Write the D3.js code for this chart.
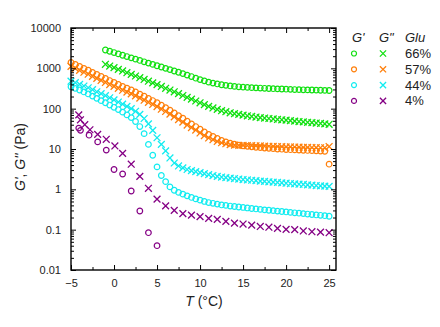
<!DOCTYPE html>
<html>
<head>
<meta charset="utf-8">
<script src="https://cdn.jsdelivr.net/npm/d3@7"></script>
<style>
  body { margin: 0; background: #fff; }
  text { font-family: "Liberation Sans", Arial, sans-serif; }
</style>
</head>
<body>
<div id="chart"></div>
<script>
// temperatures (°C)
const tempGreen = [-1, -0.5, 0, 0.5, 1, 1.5, 2, 2.5, 3, 3.5, 4, 4.5, 5, 5.5, 6, 6.5, 7, 7.5, 8, 8.5, 9, 9.5, 10, 10.5, 11, 11.5, 12, 12.5, 13, 13.5, 14, 14.5, 15, 15.5, 16, 16.5, 17, 17.5, 18, 18.5, 19, 19.5, 20, 20.5, 21, 21.5, 22, 22.5, 23, 23.5, 24, 24.5, 25];
const tempFull = [-5, -4.5, -4, -3.5, -3, -2.5, -2, -1.5, -1, -0.5, 0, 0.5, 1, 1.5, 2, 2.5, 3, 3.5, 4, 4.5, 5, 5.5, 6, 6.5, 7, 7.5, 8, 8.5, 9, 9.5, 10, 10.5, 11, 11.5, 12, 12.5, 13, 13.5, 14, 14.5, 15, 15.5, 16, 16.5, 17, 17.5, 18, 18.5, 19, 19.5, 20, 20.5, 21, 21.5, 22, 22.5, 23, 23.5, 24, 24.5, 25];
const tempPurpleG1 = [-4.1, -3.9, -2.9, -1.9, -0.9, 0, 1, 2, 3, 4, 5];
const tempPurpleG2 = [-4.1, -3.9, -3.4, -2.8, -1.9, -0.9, 0.1, 1, 2, 3, 4, 5, 6, 7, 8, 9, 10, 11, 12, 13, 14, 15, 16, 17, 18, 19, 20, 21, 22, 23, 24, 25];

// G' and G'' (Pa)
const g1_66 = [2850, 2650, 2460, 2280, 2110, 1960, 1820, 1690, 1570, 1450, 1350, 1250, 1160, 1080, 1000, 930, 860, 800, 740, 680, 625, 570, 525, 490, 455, 430, 410, 392, 378, 366, 356, 348, 342, 337, 332, 328, 324, 320, 316, 313, 310, 307, 304, 301, 298, 296, 294, 292, 290, 288, 286, 284, 282];
const g2_66 = [1260, 1140, 1040, 940, 860, 780, 710, 645, 585, 530, 480, 435, 395, 355, 320, 290, 262, 236, 212, 190, 172, 155, 140, 126, 114, 104, 96, 89, 84, 79, 75, 72, 69, 66.5, 64, 62, 60, 58.5, 57, 55.5, 54, 53, 52, 50.5, 49, 48, 47, 46, 45, 44, 43, 42, 41];
const g1_57 = [1400, 1255, 1120, 1000, 896, 795, 705, 627, 560, 498, 448, 401, 358, 323, 291, 260, 230, 204, 179, 159, 140, 122, 106, 92, 78, 67, 58, 49, 42, 36, 31, 26.5, 23, 20.5, 18.2, 16.4, 15, 13.9, 13.1, 12.5, 12, 11.6, 11.3, 11, 10.8, 10.6, 10.4, 10.2, 10, 9.9, 9.7, 9.6, 9.5, 9.4, 9.3, 9.2, 9.1, 9, 8.9, 8.8, 4.2];
const g2_57 = [1115, 1000, 893, 800, 714, 634, 562, 500, 446, 397, 357, 320, 286, 257, 232, 207, 183, 162, 143, 127, 112, 97, 85, 73, 62.5, 53.5, 46.4, 39.3, 34, 29.5, 25, 21.4, 18.8, 17, 15.4, 14.3, 13.5, 12.9, 12.5, 12.3, 12.3, 12.2, 12.1, 12, 11.9, 11.8, 11.7, 11.6, 11.5, 11.4, 11.3, 11.3, 11.2, 11.1, 11, 11, 10.9, 10.8, 10.7, 10.7, 11.5];
const g1_44 = [350, 318, 290, 260, 232, 205, 180, 158, 140, 123, 108, 95, 82, 70, 60, 48, 36, 24, 13, 7, 3.6, 2.2, 1.55, 1.15, 0.95, 0.84, 0.76, 0.69, 0.63, 0.58, 0.54, 0.5, 0.47, 0.45, 0.43, 0.41, 0.4, 0.385, 0.375, 0.365, 0.355, 0.345, 0.335, 0.326, 0.318, 0.31, 0.303, 0.296, 0.289, 0.282, 0.275, 0.268, 0.262, 0.256, 0.25, 0.244, 0.238, 0.232, 0.227, 0.222, 0.215];
const g2_44 = [480, 440, 400, 365, 330, 295, 262, 235, 210, 186, 165, 146, 130, 114, 100, 86, 72, 57, 42, 29, 19, 13, 9, 6, 4.5, 3.8, 3.4, 3.1, 2.9, 2.75, 2.6, 2.45, 2.32, 2.2, 2.1, 2.02, 1.95, 1.9, 1.85, 1.8, 1.75, 1.71, 1.68, 1.64, 1.6, 1.57, 1.54, 1.51, 1.48, 1.45, 1.42, 1.39, 1.37, 1.34, 1.32, 1.29, 1.27, 1.24, 1.22, 1.2, 1.18];
const g1_4 = [33, 29, 22, 15, 9.4, 3.1, 2.4, 0.91, 0.29, 0.084, 0.04];
const g2_4 = [70, 53, 40, 30, 23, 17.4, 11.9, 7.8, 4.2, 2.1, 1.06, 0.57, 0.39, 0.3, 0.25, 0.23, 0.21, 0.19, 0.18, 0.16, 0.145, 0.138, 0.13, 0.12, 0.115, 0.108, 0.102, 0.1, 0.093, 0.089, 0.087, 0.084];

const gluLabels = ["66%", "57%", "44%", "4%"];
const colors = ["#11e011", "#ff7f0a", "#12ecf0", "#850085"];
const yTickValues = [0.01, 0.1, 1, 10, 100, 1000, 10000];
const yTickLabels = ["0.01", "0.1", "1", "10", "100", "1000", "10000"];
const xTickValues = [-5, 0, 5, 10, 15, 20, 25];

const W = 440, H = 327;
const m = { left: 71, top: 28, right: 104, bottom: 57 };
const iw = W - m.left - m.right, ih = H - m.top - m.bottom;

const svg = d3.select("#chart").append("svg").attr("width", W).attr("height", H);
const g = svg.append("g").attr("transform", `translate(${m.left},${m.top})`);

const x = d3.scaleLinear().domain([-5, 25.8]).range([0, iw]);
const y = d3.scaleLog().domain([0.01, 10000]).range([ih, 0]);

const series = [
  { t: tempGreen, v: g1_66, c: colors[0], s: "o" },
  { t: tempGreen, v: g2_66, c: colors[0], s: "x" },
  { t: tempFull, v: g1_57, c: colors[1], s: "o" },
  { t: tempFull, v: g2_57, c: colors[1], s: "x" },
  { t: tempFull, v: g1_44, c: colors[2], s: "o" },
  { t: tempFull, v: g2_44, c: colors[2], s: "x" },
  { t: tempPurpleG1, v: g1_4, c: colors[3], s: "o" },
  { t: tempPurpleG2, v: g2_4, c: colors[3], s: "x" }
];

function drawMarker(sel, shape, color, r) {
  if (shape === "o") {
    sel.append("circle").attr("r", r).attr("fill", "none")
      .attr("stroke", color).attr("stroke-width", 1.2);
  } else {
    const d = r + 0.6;
    sel.append("path").attr("d", `M${-d},${-d}L${d},${d}M${-d},${d}L${d},${-d}`)
      .attr("stroke", color).attr("stroke-width", 1.3).attr("fill", "none");
  }
}

series.forEach(s => {
  const pts = s.t.map((t, i) => [t, s.v[i]]);
  g.append("g").selectAll("g").data(pts).join("g")
    .attr("transform", d => `translate(${x(d[0])},${y(d[1])})`)
    .each(function() { drawMarker(d3.select(this), s.s, s.c, 2.8); });
});

// axes with inward ticks on all sides
const minorY = [];
for (let e = -2; e < 4; e++) for (let k = 2; k <= 9; k++) minorY.push(k * Math.pow(10, e));
const minorX = [-2.5, 2.5, 7.5, 12.5, 17.5, 22.5];

const leftAx = g.append("g").call(d3.axisLeft(y).tickValues(yTickValues)
  .tickFormat((d, i) => yTickLabels[i]).tickSizeInner(-5).tickSizeOuter(0).tickPadding(10));
const rightAx = g.append("g").attr("transform", `translate(${iw},0)`)
  .call(d3.axisRight(y).tickValues(yTickValues).tickFormat("").tickSizeInner(-5).tickSizeOuter(0));
g.append("g").call(d3.axisLeft(y).tickValues(minorY).tickFormat("").tickSizeInner(-3).tickSizeOuter(0));
g.append("g").attr("transform", `translate(${iw},0)`)
  .call(d3.axisRight(y).tickValues(minorY).tickFormat("").tickSizeInner(-3).tickSizeOuter(0));

const bottomAx = g.append("g").attr("transform", `translate(0,${ih})`)
  .call(d3.axisBottom(x).tickValues(xTickValues).tickSizeInner(-5).tickSizeOuter(0).tickPadding(9));
g.append("g").call(d3.axisTop(x).tickValues(xTickValues).tickFormat("").tickSizeInner(-5).tickSizeOuter(0));
g.append("g").attr("transform", `translate(0,${ih})`)
  .call(d3.axisBottom(x).tickValues(minorX).tickFormat("").tickSizeInner(-3).tickSizeOuter(0));
g.append("g").call(d3.axisTop(x).tickValues(minorX).tickFormat("").tickSizeInner(-3).tickSizeOuter(0));

g.selectAll(".domain").remove();
g.selectAll(".tick line").attr("stroke", "#000").attr("stroke-width", 1);
g.selectAll(".tick text").attr("font-size", 11).attr("fill", "#222")
  .style("font-family", "'Liberation Sans', Arial, sans-serif");

g.append("rect").attr("width", iw).attr("height", ih)
  .attr("fill", "none").attr("stroke", "#000").attr("stroke-width", 1.4);

// axis titles
const yl = svg.append("text").attr("transform", "translate(25,157) rotate(-90)")
  .attr("text-anchor", "middle").attr("font-size", 14).attr("fill", "#222");
yl.append("tspan").attr("font-style", "italic").text("G'");
yl.append("tspan").text(", ");
yl.append("tspan").attr("font-style", "italic").text("G''");
yl.append("tspan").text(" (Pa)");

const xl = svg.append("text").attr("x", 204).attr("y", 306)
  .attr("text-anchor", "middle").attr("font-size", 14).attr("fill", "#222");
xl.append("tspan").attr("font-style", "italic").text("T");
xl.append("tspan").text(" (°C)");

// legend
const lg = svg.append("g");
lg.append("text").attr("x", 352).attr("y", 42).attr("font-size", 13).attr("font-style", "italic").attr("fill", "#222").text("G'");
lg.append("text").attr("x", 379).attr("y", 42).attr("font-size", 13).attr("font-style", "italic").attr("fill", "#222").text("G\"");
lg.append("text").attr("x", 405).attr("y", 42).attr("font-size", 13).attr("font-style", "italic").attr("fill", "#222").text("Glu");
gluLabels.forEach((lab, i) => {
  const cy = 53.5 + i * 15.8;
  drawMarker(lg.append("g").attr("transform", `translate(354,${cy})`), "o", colors[i], 2.5);
  drawMarker(lg.append("g").attr("transform", `translate(383,${cy})`), "x", colors[i], 2.5);
  lg.append("text").attr("x", 405).attr("y", cy + 4.5).attr("font-size", 13).attr("fill", "#222").text(lab);
});
</script>
</body>
</html>
